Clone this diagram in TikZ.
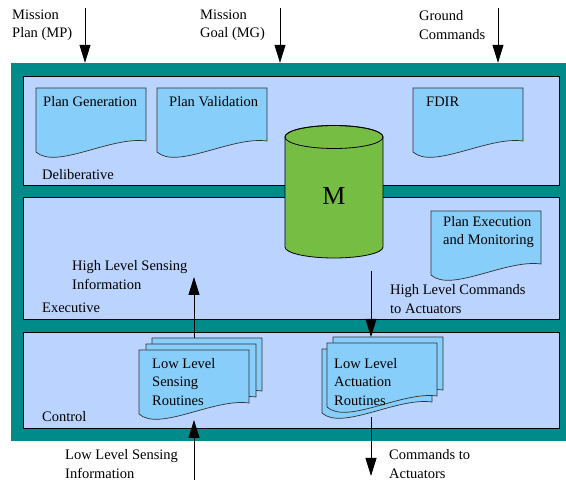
\documentclass[tikz,border=0pt]{standalone}
\usepackage{fontspec}
\setmainfont{Liberation Serif}
\usetikzlibrary{arrows.meta,calc}

\definecolor{frameteal}{RGB}{0,139,139}
\definecolor{layerblue}{RGB}{187,212,255}
\definecolor{docblue}{RGB}{135,206,250}
\definecolor{cylgreen}{RGB}{118,190,67}

\tikzset{
  layer/.style={draw=black,line width=0.8pt,fill=layerblue,minimum width=536pt,inner sep=0pt},
  label/.style={anchor=west,align=left,inner sep=0pt,font=\fontsize{14.5}{18.5}\selectfont},
  flow/.style={line width=0.8pt,-{Triangle[length=18pt,width=11pt]}},
  docpage/.pic={
    \draw[line width=0.7pt,fill=docblue,draw=black!80] (0,0) -- (110,0) -- (110,53)
      .. controls (75,48) and (20,82) .. (0,64) -- cycle;
  }
}

\begin{document}
\begin{tikzpicture}[x=1pt,y=-1pt]
  \useasboundingbox (0,0) rectangle (566,481);

  % frame and the three layers
  \node[fill=frameteal,minimum width=555pt,minimum height=378pt,inner sep=0pt] (frame) at (288.5,252) {};
  \node[layer,minimum height=109pt] (delib) at (291,130.5) {};
  \node[layer,minimum height=122pt] (exec) at (291,258) {};
  \node[layer,minimum height=96pt] (ctrl) at (291,380) {};

  \node[label] (delibname) at (42,175) {Deliberative};
  \node[label] (execname) at (42,308) {Executive};
  \node[label] (ctrlname) at (42,417) {Control};

  % deliberative pages
  \pic at (36,88) {docpage};
  \pic at (157,88) {docpage};
  \pic at (413,88) {docpage};
  \node[label] (plangen) at (43,102) {Plan Generation};
  \node[label] (planval) at (169,102) {Plan Validation};
  \node[label] (fdir) at (426,102) {FDIR};

  % executive page
  \pic at (431,211) {docpage};
  \node[label] (planexec) at (443,232) {Plan Execution\\and Monitoring};

  % control stacks
  \pic at (152,338) {docpage};
  \pic at (146,344) {docpage};
  \pic at (139,350) {docpage};
  \node[label] (llsense) at (152,382) {Low Level\\Sensing\\Routines};

  \pic at (322,349) {docpage};
  \pic at (333,337) {docpage};
  \pic at (327,343) {docpage};
  \node[label] (llact) at (334,382) {Low Level\\Actuation\\Routines};

  % model cylinder
  \filldraw[fill=cylgreen,line width=0.8pt] (285,137) -- (285,247)
    arc[start angle=180,end angle=0,x radius=49,y radius=11] -- (383,137)
    arc[start angle=0,end angle=-180,x radius=49,y radius=11.5] -- cycle;
  \draw[line width=0.8pt] (334,137) ellipse[x radius=49,y radius=11.5];
  \node[inner sep=0pt,font=\fontsize{26}{30}\selectfont] (model) at (334,196) {M};

  % inputs on top
  \node[label] (mp) at (12,25) {Mission\\Plan (MP)};
  \node[label] (mg) at (200,25) {Mission\\Goal (MG)};
  \node[label] (gc) at (419,25) {Ground\\Commands};
  \coordinate (mpin) at (85,8);
  \coordinate (mgin) at (280,8);
  \coordinate (gcin) at (498,8);
  \draw[flow] (mpin) -- (mpin |- frame.north);
  \draw[flow] (mgin) -- (mgin |- frame.north);
  \draw[flow] (gcin) -- (gcin |- frame.north);

  % executive <-> control
  \node[label] (hlsense) at (72,275) {High Level Sensing\\Information};
  \node[label] (hlcmd) at (390,299) {High Level Commands\\to Actuators};
  \coordinate (hlsfrom) at (194,338);
  \coordinate (hlsto) at (194,277);
  \coordinate (hlcfrom) at (371,271);
  \coordinate (hlcto) at (371,337);
  \draw[flow] (hlsfrom) -- (hlsto);
  \draw[flow] (hlcfrom) -- (hlcto);

  % outside the frame, bottom
  \node[label] (llsinfo) at (65,464) {Low Level Sensing\\Information};
  \node[label] (cmdact) at (389,464) {Commands to\\Actuators};
  \coordinate (llsfrom) at (194,480);
  \coordinate (llsto) at (194,420);
  \coordinate (ctafrom) at (371,417);
  \coordinate (ctato) at (371,476);
  \draw[flow] (llsfrom) -- (llsto);
  \draw[flow] (ctafrom) -- (ctato);
\end{tikzpicture}
\end{document}
